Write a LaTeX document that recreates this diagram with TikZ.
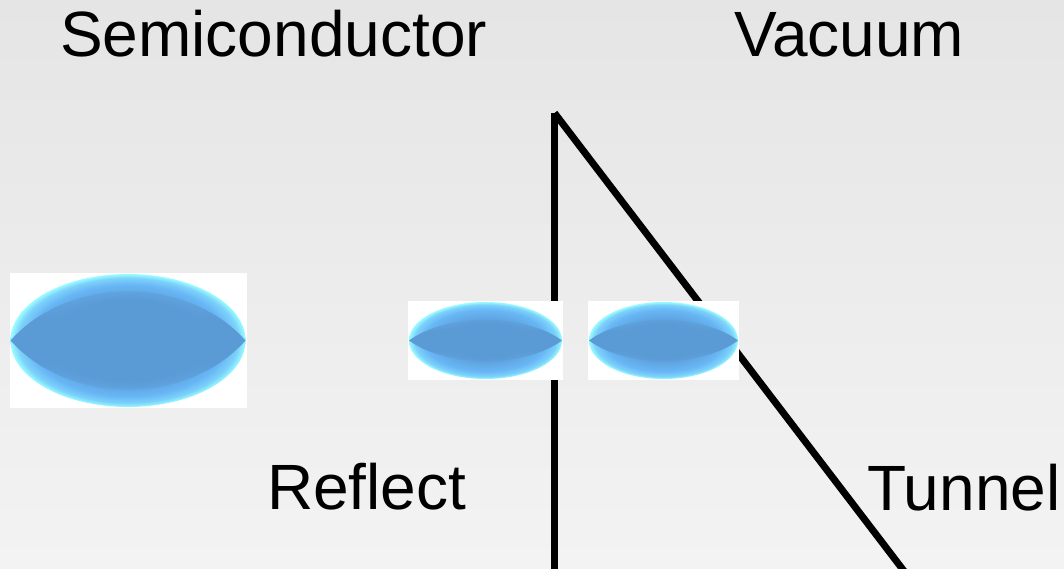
\documentclass[tikz,border=0pt]{standalone}
\usepackage{fontspec}
\setmainfont{Liberation Sans}
\usetikzlibrary{fadings}

\definecolor{bgtop}{RGB}{229,229,229}
\definecolor{bgbot}{RGB}{243,243,243}
\definecolor{blobcore}{RGB}{91,155,213}
\definecolor{blobmid}{RGB}{104,182,246}
\definecolor{blobrim}{RGB}{155,252,255}

% ring shadings for the blobs (path box = central 50bp square)
\pgfdeclareradialshading{blobbig}{\pgfpoint{0bp}{0bp}}{%
  color(0bp)=(blobcore); color(15bp)=(blobcore); color(21bp)=(blobmid);
  color(23.5bp)=(blobmid!60!blobrim); color(25bp)=(blobrim); color(50bp)=(blobrim)}
\pgfdeclareradialshading{blobsmall}{\pgfpoint{0bp}{0bp}}{%
  color(0bp)=(blobcore); color(11bp)=(blobcore); color(20bp)=(blobmid);
  color(23.3bp)=(blobmid!60!blobrim); color(25bp)=(blobrim); color(50bp)=(blobrim)}

% soft upper and lower edges of the dark lens in each blob
\pgfdeclareverticalshading{lensmask}{100bp}{%
  color(0bp)=(black); color(25bp)=(black); color(42bp)=(white);
  color(58bp)=(white); color(75bp)=(black); color(100bp)=(black)}
\pgfdeclarefading{lensfade}{\pgfuseshading{lensmask}}

\tikzset{
  label/.style={anchor=base west, inner sep=0pt, font=\fontsize{64}{68}\selectfont, text=black},
  barrier/.style={line width=7pt, line cap=butt, draw=black},
}

% #1 name, #2 centre x, #3 centre y, #4 half width, #5 half height, #6 lens factor, #7 shading
\newcommand\drawblob[7]{%
  \begin{scope}[shift={(#2,#3)}]
    \coordinate (#1) at (0,0);
    \fill[white] (-#4-1,-#5-1) rectangle (#4+1,#5+1);
    \shade[shading=#7] (0,0) ellipse [x radius=#4, y radius=#5];
    \fill[blobcore, path fading=lensfade]
      (-#4,0) .. controls (-0.5*#4,-#6*#5/0.75) and (0.5*#4,-#6*#5/0.75) .. (#4,0)
              .. controls (0.5*#4,#6*#5/0.75) and (-0.5*#4,#6*#5/0.75) .. (-#4,0) -- cycle;
  \end{scope}}

\begin{document}
\begin{tikzpicture}[x=1pt, y=-1pt]
  \useasboundingbox (0,0) rectangle (1064,568);
  \shade[top color=bgtop, bottom color=bgbot] (0,0) rectangle (1064,568);

  % the barrier walls
  \coordinate (apex) at (554.5,113);
  \coordinate (wallfoot) at (554.5,575);
  \coordinate (slopefoot) at (907,575);
  \draw[barrier] (apex) -- (wallfoot);
  \draw[barrier] (apex) -- (slopefoot);

  % electron wave packets
  \drawblob{incoming}{128}{340.5}{117.5}{66.5}{0.74}{blobbig}
  \drawblob{reflected}{485.5}{340.5}{76.5}{38.5}{0.54}{blobsmall}
  \drawblob{tunnelled}{663.5}{340.5}{74.5}{38.5}{0.54}{blobsmall}

  % labels
  \node[label] (semi) at (60,56) {Semiconductor};
  \node[label] (vac) at (734,56) {Vacuum};
  \node[label] (refl) at (267,509) {Reflect};
  \node[label] (tunn) at (867,510) {Tunnel};
\end{tikzpicture}
\end{document}
